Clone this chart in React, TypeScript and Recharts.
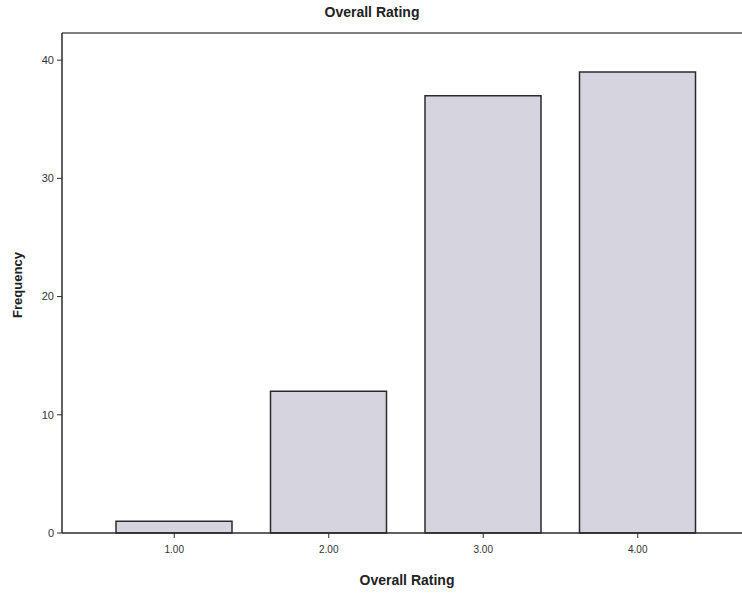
import React from "react";
import { BarChart, Bar, XAxis, YAxis, Label, ReferenceLine } from "recharts";

const categories = ["1.00", "2.00", "3.00", "4.00"];
const frequencies = [1, 12, 37, 39];
const yTicks = [0, 10, 20, 30, 40];
const Y_MAX = 42.3;

const FONT = "'Liberation Sans', Arial, sans-serif";
const INK = "#2b2b2b";

const data = categories.map((rating, i) => ({ rating, frequency: frequencies[i] }));

/**
 * SPSS style frequency bar chart for the "Overall Rating" variable.
 * The plot frame runs past the right edge of the window, as in the source.
 */
export default function App() {
  return (
    <div
      style={{
        position: "fixed",
        left: 0,
        top: 0,
        width: 742,
        height: 597,
        overflow: "hidden",
        background: "#fff",
        fontFamily: FONT,
      }}
    >
      <BarChart
        width={760}
        height={597}
        data={data}
        margin={{ top: 33, right: 10, bottom: 0, left: 0 }}
        barSize={116}
      >
        <XAxis
          dataKey="rating"
          height={64}
          padding={{ left: 35, right: 35 }}
          tickSize={5}
          tickMargin={8}
          tickLine={{ stroke: INK }}
          axisLine={{ stroke: INK, strokeWidth: 1.5 }}
          tick={{ fontSize: 10, fill: "#333", fontFamily: FONT }}
        >
          <Label
            content={() => (
              <text
                x={407}
                y={585}
                textAnchor="middle"
                fontSize={14}
                fontWeight="bold"
                fontFamily={FONT}
                fill="#222"
              >
                Overall Rating
              </text>
            )}
          />
        </XAxis>
        <YAxis
          width={62}
          domain={[0, Y_MAX]}
          ticks={yTicks}
          tickSize={5}
          tickMargin={3}
          tickLine={{ stroke: INK }}
          axisLine={{ stroke: INK, strokeWidth: 1.5 }}
          tick={{ fontSize: 11, fill: "#333", fontFamily: FONT }}
        >
          <Label
            content={() => (
              <text
                x={22}
                y={285}
                transform="rotate(-90 22 285)"
                textAnchor="middle"
                fontSize={13}
                fontWeight="bold"
                fontFamily={FONT}
                fill="#222"
              >
                Frequency
              </text>
            )}
          />
        </YAxis>
        <ReferenceLine y={Y_MAX} stroke="#555" strokeWidth={1.5}>
          <Label
            content={() => (
              <text
                x={372}
                y={17}
                textAnchor="middle"
                fontSize={14}
                fontWeight="bold"
                fontFamily={FONT}
                fill="#222"
              >
                Overall Rating
              </text>
            )}
          />
        </ReferenceLine>
        <Bar
          dataKey="frequency"
          fill="#d6d4de"
          stroke={INK}
          strokeWidth={1.5}
          isAnimationActive={false}
        />
      </BarChart>
    </div>
  );
}
